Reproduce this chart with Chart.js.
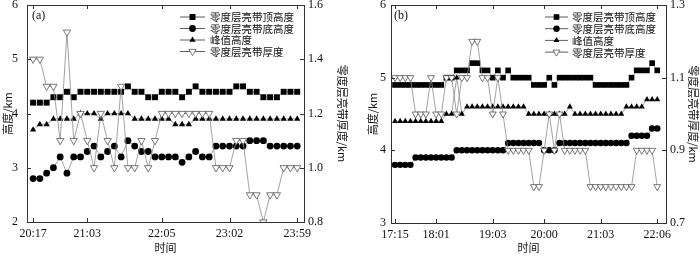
<!DOCTYPE html>
<html>
<head>
<meta charset="utf-8">
<script src="https://cdn.jsdelivr.net/npm/chart.js@4.4.1/dist/chart.umd.min.js"></script>
<style>
	html, body { margin: 0; padding: 0; background: #fff; }
	#wrap { position: relative; width: 700px; height: 257px; }
	.box { position: absolute; top: 0; width: 350px; height: 257px; }
</style>
</head>
<body>
<div id="wrap">
	<div class="box" style="left:0"><canvas id="chart-a" width="350" height="257"></canvas></div>
	<div class="box" style="left:350px"><canvas id="chart-b" width="350" height="257"></canvas></div>
</div>
<script>
// Utilities
const legendNames = ['零度层亮带顶高度', '零度层亮带底高度', '峰值高度', '零度层亮带厚度'];

// Panel (a): one point per volume scan, 20:17 - 23:59
const timeLabelsA = ['20:17', '21:03', '22:05', '23:02', '23:59'];
const timeIdxA = [0, 8, 19, 29, 39];
const topA = [4.2, 4.2, 4.2, 4.3, 4.3, 4.4, 4.3, 4.4, 4.4, 4.4, 4.4, 4.4, 4.4, 4.4, 4.5, 4.4, 4.4, 4.3, 4.3, 4.4,
	4.4, 4.4, 4.3, 4.4, 4.5, 4.4, 4.4, 4.4, 4.4, 4.4, 4.5, 4.5, 4.4, 4.4, 4.3, 4.3, 4.3, 4.4, 4.4, 4.4];
const bottomA = [2.8, 2.8, 2.9, 3.0, 3.2, 2.9, 3.2, 3.2, 3.3, 3.4, 3.2, 3.3, 3.4, 3.2, 3.5, 3.4, 3.3, 3.3, 3.2, 3.2,
	3.2, 3.2, 3.1, 3.2, 3.3, 3.2, 3.2, 3.4, 3.4, 3.4, 3.4, 3.4, 3.5, 3.5, 3.5, 3.4, 3.4, 3.4, 3.4, 3.4];
const peakA = [3.7, 3.8, 3.8, 3.9, 3.9, 3.9, 3.9, 4.0, 4.0, 4.0, 3.9, 4.0, 4.0, 4.0, 4.0, 3.9, 3.9, 3.9, 3.9, 3.9,
	3.9, 3.8, 3.8, 3.8, 3.9, 3.9, 3.9, 3.9, 3.9, 3.9, 3.9, 3.9, 3.9, 3.9, 3.9, 3.9, 3.9, 3.9, 3.9, 3.9];
const thickA = [1.4, 1.4, 1.3, 1.3, 1.1, 1.5, 1.1, 1.2, 1.1, 1.0, 1.2, 1.1, 1.0, 1.3, 1.0, 1.0, 1.1, 1.0, 1.1, 1.2,
	1.2, 1.2, 1.2, 1.2, 1.2, 1.2, 1.2, 1.0, 1.0, 1.0, 1.1, 1.1, 0.9, 0.9, 0.8, 0.9, 0.9, 1.0, 1.0, 1.0];
const leftTicksA = [2, 3, 4, 5, 6];
const rightTicksA = [0.8, 1.0, 1.2, 1.4, 1.6];

// Panel (b): 17:15 - 22:06
const timeLabelsB = ['17:15', '18:01', '19:03', '20:00', '21:03', '22:06'];
const timeIdxB = [0, 8, 19, 29, 40, 51];
const topB = [4.9, 4.9, 4.9, 4.9, 4.9, 4.9, 4.9, 4.9, 4.9, 4.9, 5.0, 5.0, 5.1, 5.1, 5.1, 5.2, 5.2, 5.1, 5.1, 5.0,
	5.1, 5.0, 5.1, 5.0, 5.0, 5.0, 5.0, 4.9, 4.9, 4.9, 5.0, 4.9, 5.0, 5.0, 5.0, 5.0, 5.0, 5.0, 5.0, 4.9,
	4.9, 4.9, 4.9, 4.9, 4.9, 4.9, 5.0, 5.1, 5.1, 5.1, 5.2, 5.1];
const bottomB = [3.8, 3.8, 3.8, 3.8, 3.9, 3.9, 3.9, 3.9, 3.9, 3.9, 3.9, 3.9, 4.0, 4.0, 4.0, 4.0, 4.0, 4.0, 4.0, 4.0,
	4.0, 4.0, 4.1, 4.1, 4.1, 4.1, 4.1, 4.1, 4.1, 4.0, 4.0, 4.0, 4.1, 4.1, 4.1, 4.1, 4.1, 4.1, 4.1, 4.1,
	4.1, 4.1, 4.1, 4.1, 4.1, 4.1, 4.2, 4.2, 4.2, 4.2, 4.3, 4.3];
const peakB = [4.4, 4.4, 4.4, 4.4, 4.4, 4.4, 4.4, 4.4, 4.4, 4.4, 4.5, 4.5, 5.0, 4.5, 4.6, 4.6, 4.6, 4.6, 4.6, 4.6,
	4.6, 4.6, 4.6, 4.6, 4.6, 4.6, 4.5, 4.5, 4.5, 4.5, 4.5, 4.5, 4.5, 4.5, 4.6, 4.5, 4.5, 4.5, 4.5, 4.5,
	4.5, 4.5, 4.5, 4.5, 4.5, 4.6, 4.6, 4.6, 4.6, 4.7, 4.7, 4.7];
const thickB = [1.1, 1.1, 1.1, 1.1, 1.0, 1.0, 1.0, 1.1, 1.0, 1.0, 1.1, 1.1, 1.0, 1.1, 1.1, 1.2, 1.2, 1.1, 1.1, 1.0,
	1.1, 1.0, 0.9, 0.9, 0.9, 0.9, 0.9, 0.8, 0.8, 0.9, 1.0, 0.9, 1.0, 0.9, 0.9, 0.9, 0.9, 0.9, 0.8, 0.8,
	0.8, 0.8, 0.8, 0.8, 0.8, 0.8, 0.8, 0.9, 0.9, 0.9, 0.9, 0.8];
const leftTicksB = [3, 4, 5, 6];
const rightTicksB = [0.7, 0.9, 1.1, 1.3];

const numFont = "'Liberation Serif', 'Noto Sans CJK SC', serif";
const cjkFont = "'Noto Sans CJK SC', 'Liberation Serif', sans-serif";

const toPts = (arr) => arr.map((v, i) => ({ x: i, y: v }));

// marker styles, shared by the series and the legend
function markers(scale) {
	return [
		{ pointStyle: 'rect', radius: 4.2 * scale, rotation: 0, backgroundColor: '#000', borderColor: '#000', borderWidth: 0 },
		{ pointStyle: 'circle', radius: 3.4 * scale, rotation: 0, backgroundColor: '#000', borderColor: '#000', borderWidth: 0 },
		{ pointStyle: 'triangle', radius: 3.6 * scale, rotation: 0, backgroundColor: '#000', borderColor: '#000', borderWidth: 0 },
		{ pointStyle: 'triangle', radius: 4.2 * scale, rotation: 180, backgroundColor: '#fff', borderColor: '#555', borderWidth: 0.8 },
	];
}

// frame, inward ticks and the legend inside the plot
const framePlugin = {
	id: 'frame',
	afterDraw(chart, args, opts) {
		const { ctx, chartArea: a, scales } = chart;
		ctx.save();
		ctx.strokeStyle = '#333';
		ctx.lineWidth = 1;
		ctx.strokeRect(a.left + 0.5, a.top + 0.5, a.right - a.left, a.bottom - a.top);
		ctx.beginPath();
		opts.xTicks.forEach((t) => {
			const px = Math.round(scales.x.getPixelForValue(t)) + 0.5;
			ctx.moveTo(px, a.bottom); ctx.lineTo(px, a.bottom - 4);
			ctx.moveTo(px, a.top); ctx.lineTo(px, a.top + 4);
		});
		opts.yTicks.forEach((t) => {
			const py = Math.round(scales.y.getPixelForValue(t)) + 0.5;
			ctx.moveTo(a.left, py); ctx.lineTo(a.left + 4, py);
			ctx.moveTo(a.right, py); ctx.lineTo(a.right - 4, py);
		});
		ctx.stroke();

		// legend
		const lg = opts.legend;
		const mk = markers(opts.markerScale);
		ctx.font = '10.5px ' + cjkFont;
		ctx.textBaseline = 'middle';
		ctx.textAlign = 'left';
		legendNames.forEach((name, i) => {
			const y = lg.y + i * lg.dy;
			ctx.strokeStyle = '#333';
			ctx.lineWidth = 0.8;
			ctx.beginPath();
			ctx.moveTo(lg.x1, y); ctx.lineTo(lg.x2, y);
			ctx.stroke();
			const m = mk[i];
			ctx.fillStyle = m.backgroundColor;
			ctx.strokeStyle = m.borderColor;
			ctx.lineWidth = m.borderWidth || 0;
			Chart.helpers.drawPoint(ctx, { pointStyle: m.pointStyle, radius: m.radius, rotation: m.rotation, borderWidth: m.borderWidth }, (lg.x1 + lg.x2) / 2, y);
			ctx.fillStyle = '#111';
			ctx.fillText(name, lg.tx, y + 0.5);
		});
		ctx.restore();
	},
};

function makeChart(id, cfg) {
	const ctx = document.getElementById(id);
	const mk = markers(cfg.markerScale);
	const series = [cfg.thick, cfg.top, cfg.bottom, cfg.peak];
	const mkIdx = [3, 0, 1, 2];
	const axisIds = ['y2', 'y', 'y', 'y'];

	new Chart(ctx, {
		type: 'line',
		data: {
			datasets: series.map((arr, k) => ({
				label: legendNames[mkIdx[k]],
				data: toPts(arr),
				yAxisID: axisIds[k],
				borderColor: '#8a8a8a',
				borderWidth: 0.8,
				pointStyle: mk[mkIdx[k]].pointStyle,
				pointRadius: mk[mkIdx[k]].radius,
				pointRotation: mk[mkIdx[k]].rotation,
				pointBackgroundColor: mk[mkIdx[k]].backgroundColor,
				pointBorderColor: mk[mkIdx[k]].borderColor,
				pointBorderWidth: mk[mkIdx[k]].borderWidth,
				order: k,
			})),
		},
		options: {
			responsive: false,
			animation: false,
			layout: { padding: { top: 5, left: 0, right: 0, bottom: 0 } },
			plugins: {
				legend: { display: false },
				tooltip: { enabled: false },
				frame: cfg.frame,
			},
			scales: {
				x: {
					type: 'linear',
					min: cfg.xMin,
					max: cfg.xMax,
					afterBuildTicks: (s) => { s.ticks = cfg.timeIdx.map((v) => ({ value: v })); },
					afterFit: (s) => { s.height = cfg.xHeight; s.paddingLeft = 0; s.paddingRight = 0; },
					ticks: {
						autoSkip: false,
						maxRotation: 0,
						padding: 5,
						color: '#111',
						font: { family: numFont, size: 12 },
						callback: (v) => cfg.timeLabels[cfg.timeIdx.indexOf(v)],
					},
					grid: { display: false, drawTicks: false },
					border: { display: false },
					title: { display: true, text: '时间', color: '#111', font: { family: cjkFont, size: 11 }, padding: { top: 0, bottom: 3 } },
				},
				y: {
					position: 'left',
					min: cfg.yMin,
					max: cfg.yMax,
					afterBuildTicks: (s) => { s.ticks = cfg.leftTicks.map((v) => ({ value: v })); },
					afterFit: (s) => { s.width = cfg.leftWidth; s.paddingTop = 0; s.paddingBottom = 0; },
					ticks: { padding: cfg.leftPad, color: '#111', font: { family: numFont, size: 12 } },
					grid: { display: false, drawTicks: false },
					border: { display: false },
					title: { display: true, text: '高度/km', color: '#111', font: { family: cjkFont, size: 11 }, padding: { top: cfg.leftTitlePad, bottom: 0 } },
				},
				y2: {
					position: 'right',
					min: cfg.y2Min,
					max: cfg.y2Max,
					afterBuildTicks: (s) => { s.ticks = cfg.rightTicks.map((v) => ({ value: v })); },
					afterFit: (s) => { s.width = cfg.rightWidth; s.paddingTop = 0; s.paddingBottom = 0; },
					ticks: { padding: cfg.rightPad, color: '#111', font: { family: numFont, size: 12 }, callback: (v) => v.toFixed(1) },
					grid: { display: false, drawTicks: false },
					border: { display: false },
					title: { display: true, text: '零度层亮带厚度/km', color: '#111', font: { family: cjkFont, size: 11 }, padding: { top: cfg.rightTitlePad, bottom: 0 } },
				},
			},
		},
		plugins: [framePlugin, {
			id: 'panelTag',
			afterDraw(chart) {
				const c = chart.ctx;
				c.save();
				c.font = '12px ' + numFont;
				c.fillStyle = '#111';
				c.textBaseline = 'middle';
				c.fillText(cfg.tag, chart.chartArea.left + cfg.tagDx, 16);
				c.restore();
			},
		}],
	});
}

// (a)
!(function () {
	makeChart('chart-a', {
		top: topA, bottom: bottomA, peak: peakA, thick: thickA,
		timeLabels: timeLabelsA, timeIdx: timeIdxA,
		leftTicks: leftTicksA, rightTicks: rightTicksA,
		xMin: -0.9, xMax: 40.0, yMin: 2, yMax: 6, y2Min: 0.8, y2Max: 1.6,
		xHeight: 35, leftWidth: 27, rightWidth: 46, leftPad: 9, rightPad: 4,
		leftTitlePad: 1, rightTitlePad: 1,
		markerScale: 1, tag: '(a)', tagDx: 5,
		frame: { xTicks: timeIdxA, yTicks: leftTicksA, markerScale: 1, legend: { x1: 180, x2: 205, tx: 210, y: 17, dy: 11.5 } },
	});
})();

// (b)
!(function () {
	makeChart('chart-b', {
		top: topB, bottom: bottomB, peak: peakB, thick: thickB,
		timeLabels: timeLabelsB, timeIdx: timeIdxB,
		leftTicks: leftTicksB, rightTicks: rightTicksB,
		xMin: -0.78, xMax: 52.7, yMin: 3, yMax: 6, y2Min: 0.7, y2Max: 1.3,
		xHeight: 34, leftWidth: 41, rightWidth: 34, leftPad: 5, rightPad: 4,
		leftTitlePad: 16, rightTitlePad: 0,
		markerScale: 0.95, tag: '(b)', tagDx: 3,
		frame: { xTicks: timeIdxB, yTicks: leftTicksB, markerScale: 0.95, legend: { x1: 195, x2: 218, tx: 222, y: 17, dy: 11.7 } },
	});
})();
</script>
</body>
</html>
